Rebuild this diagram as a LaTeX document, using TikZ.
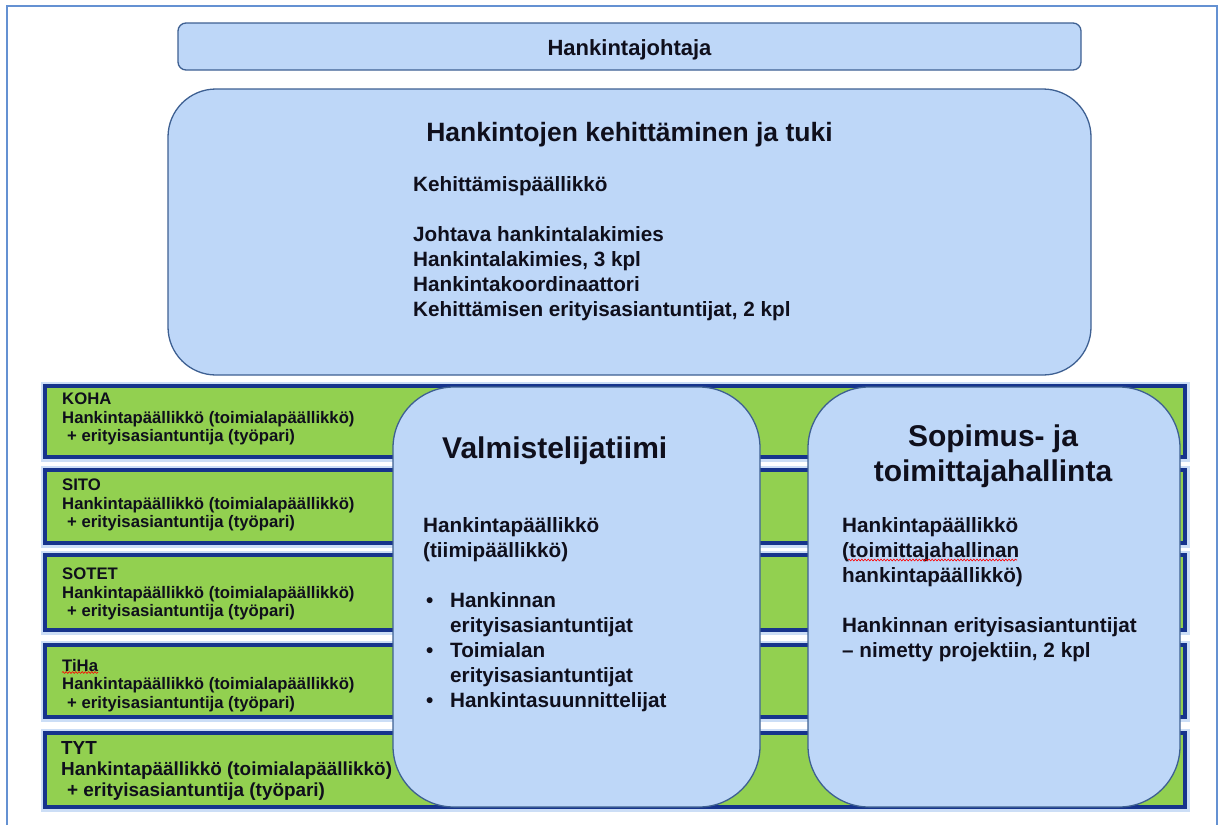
\documentclass[tikz,border=0pt]{standalone}
\usepackage{fontspec}
\setmainfont{Liberation Sans}
\usetikzlibrary{decorations.pathmorphing}

\definecolor{boxfill}{RGB}{190,215,248}
\definecolor{boxline}{RGB}{62,96,146}
\definecolor{barfill}{RGB}{146,208,80}
\definecolor{barline}{RGB}{22,52,140}
\definecolor{barglow}{RGB}{170,200,240}
\definecolor{frameline}{RGB}{100,145,210}
\definecolor{ink}{RGB}{15,15,28}

\newcommand\fsz[2]{\fontsize{#1pt}{#2pt}\selectfont}

\tikzset{
  bluebox/.style={draw=boxline, line width=1.3pt, fill=boxfill},
  bar/.style={draw=barline, line width=3.5pt, fill=barfill,
    preaction={draw=barglow, line width=9pt, opacity=0.6}},
  txt/.style={inner sep=0pt, text=ink, align=left},
  bartxt/.style={txt, anchor=north west, font=\bfseries\fsz{16.7}{18.5}},
  bodytxt/.style={txt, anchor=north west, font=\bfseries\fsz{20.7}{25}},
  squiggle/.style={draw=red, line width=0.6pt, decorate,
    decoration={snake, amplitude=0.9pt, segment length=3.2pt}}
}

\begin{document}
\begin{tikzpicture}[x=1pt, y=-1pt]
\useasboundingbox (0,0) rectangle (1220,825);

% page frame
\draw[frameline, line width=2pt] (7,825) -- (7,6) -- (1217,6) -- (1217,825);

% head of procurement
\draw[bluebox, rounded corners=8pt] (178,23) rectangle (1081,70);
\node[txt, anchor=base, font=\bfseries\fsz{22}{26}] (chief) at (629.5,55) {Hankintajohtaja};

% development and support unit
\draw[bluebox, rounded corners=48pt] (168,89) rectangle (1091,375);
\node[txt, anchor=base, font=\bfseries\fsz{26.5}{30}] (devtitle) at (629.5,141.5) {Hankintojen kehittäminen ja tuki};
\node[bodytxt] (devbody) at (413,176.6) {Kehittämispäällikkö\\[25pt]
Johtava hankintalakimies\\
Hankintalakimies, 3 kpl\\
Hankintakoordinaattori\\
Kehittämisen erityisasiantuntijat, 2 kpl};

% sector bars
\draw[bar] (45,386) rectangle (1185,457);
\draw[bar] (45,470) rectangle (1185,543);
\draw[bar] (45,555) rectangle (1185,630);
\draw[bar] (45,645) rectangle (1185,717);
\draw[bar] (45,733) rectangle (1185,807);

\node[bartxt] (koha) at (62,393) {KOHA\\Hankintapäällikkö (toimialapäällikkö)\\\hspace*{5pt}+ erityisasiantuntija (työpari)};
\node[bartxt] (sito) at (62,479) {SITO\\Hankintapäällikkö (toimialapäällikkö)\\\hspace*{5pt}+ erityisasiantuntija (työpari)};
\node[bartxt] (sotet) at (62,568) {SOTET\\Hankintapäällikkö (toimialapäällikkö)\\\hspace*{5pt}+ erityisasiantuntija (työpari)};
\node[bartxt] (tiha) at (62,659) {TiHa\\Hankintapäällikkö (toimialapäällikkö)\\\hspace*{5pt}+ erityisasiantuntija (työpari)};
\node[bartxt, font=\bfseries\fsz{18.9}{21}] (tyt) at (61,741) {TYT\\Hankintapäällikkö (toimialapäällikkö)\\\hspace*{6pt}+ erityisasiantuntija (työpari)};
\draw[squiggle] (62,672.5) -- (98,672.5);

% preparation team
\draw[bluebox, rounded corners=61pt] (393,387) rectangle (760,807);
\node[txt, anchor=base west, font=\bfseries\fsz{30}{35}] (prepttl) at (442,458.5) {Valmistelijatiimi};
\node[bodytxt] (prepbody) at (423,517.5) {Hankintapäällikkö\\
(tiimipäällikkö)\\[25pt]
\makebox[27pt][l]{\kern3pt•}Hankinnan\\
\hspace*{27pt}erityisasiantuntijat\\
\makebox[27pt][l]{\kern3pt•}Toimialan\\
\hspace*{27pt}erityisasiantuntijat\\
\makebox[27pt][l]{\kern3pt•}Hankintasuunnittelijat};

% contract and supplier management
\draw[bluebox, rounded corners=61pt] (808,387) rectangle (1180,807);
\node[txt, anchor=north, align=center, font=\bfseries\fsz{30}{35}] (supttl) at (993,424.5) {Sopimus- ja\\toimittajahallinta};
\node[bodytxt] (supbody) at (842,517.5) {Hankintapäällikkö\\
(toimittajahallinan\\
hankintapäällikkö)\\[25pt]
Hankinnan erityisasiantuntijat\\
– nimetty projektiin, 2 kpl};
\draw[squiggle] (848,560) -- (1017,560);
\end{tikzpicture}
\end{document}
